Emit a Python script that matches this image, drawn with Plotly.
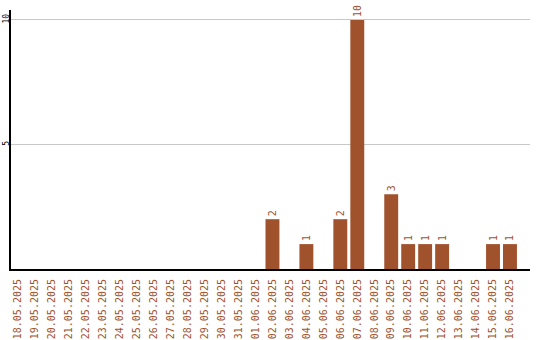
import plotly.graph_objects as go

dates = ["18.05.2025","19.05.2025","20.05.2025","21.05.2025","22.05.2025","23.05.2025",
         "24.05.2025","25.05.2025","26.05.2025","27.05.2025","28.05.2025","29.05.2025",
         "30.05.2025","31.05.2025","01.06.2025","02.06.2025","03.06.2025","04.06.2025",
         "05.06.2025","06.06.2025","07.06.2025","08.06.2025","09.06.2025","10.06.2025",
         "11.06.2025","12.06.2025","13.06.2025","14.06.2025","15.06.2025","16.06.2025"]
values = [0,0,0,0,0,0,0,0,0,0,0,0,0,0,0,2,0,1,0,2,10,0,3,1,1,1,0,0,1,1]
labels = [str(v) if v else "" for v in values]

color = "#A0522D"
font = "DejaVu Sans Mono, Liberation Mono, monospace"

fig = go.Figure(go.Bar(
    x=list(range(len(dates))), y=values, text=labels,
    textposition="outside", textangle=-90, cliponaxis=False,
    textfont=dict(color=color, size=10, family=font),
    marker=dict(color=color, line=dict(width=0)),
))
fig.update_layout(
    width=540, height=340, margin=dict(l=11, r=10, t=10, b=71),
    paper_bgcolor="white", plot_bgcolor="white", bargap=0.18,
    showlegend=False, font=dict(family=font, size=10),
    uniformtext=dict(minsize=10, mode="show"),
)
fig.update_xaxes(
    range=[-0.41, 30.18], tickmode="array", tickvals=list(range(len(dates))),
    ticktext=dates, tickangle=-90, tickfont=dict(color=color, size=10, family=font),
    showline=True, linecolor="black", linewidth=2, showgrid=False, ticks="",
    zeroline=False, automargin=False, ticklabelstandoff=4,
)
fig.update_yaxes(
    range=[0, 10.4], tickvals=[5, 10], tickangle=-90,
    tickfont=dict(color="black", size=8, family=font),
    showline=True, linecolor="black", linewidth=2, showgrid=True,
    gridcolor="#c8c8c8", gridwidth=1, ticks="", zeroline=False,
    automargin=False, ticklabelstandoff=-3,
)
fig.write_html("out.html")
